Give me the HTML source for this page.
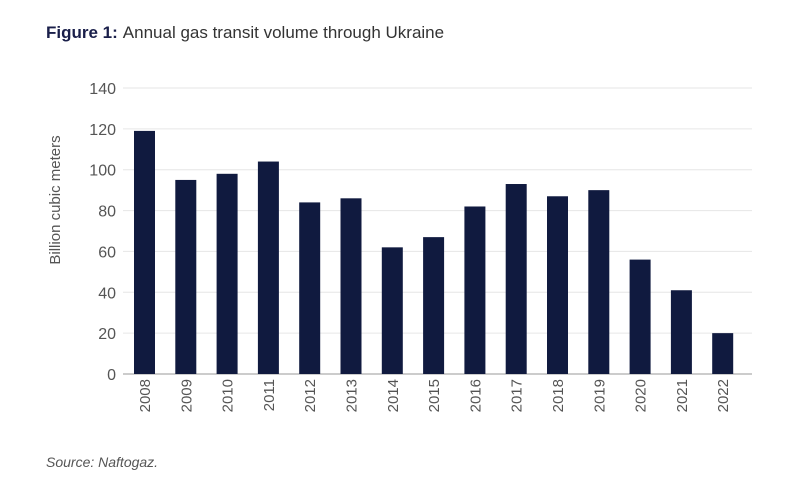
<!DOCTYPE html>
<html><head><meta charset="utf-8"><style>
body{margin:0;background:#fff;width:786px;height:491px;overflow:hidden;font-family:"Liberation Sans",sans-serif;}
</style></head><body>
<svg width="786" height="491" xmlns="http://www.w3.org/2000/svg">
<text x="46" y="38" font-size="17" fill="#1a1f4a"><tspan font-weight="bold">Figure 1:</tspan><tspan fill="#333" dx="5">Annual gas transit volume through Ukraine</tspan></text>
<g id="grid"></g><g id="bars"></g><g id="xl"></g><g id="yl"></g>
<text transform="translate(60,200) rotate(-90)" text-anchor="middle" font-size="15" fill="#555">Billion cubic meters</text>
<text x="46" y="467" font-size="14" font-style="italic" fill="#555">Source: Naftogaz.</text>
</svg>
<script>
const categories=["2008","2009","2010","2011","2012","2013","2014","2015","2016","2017","2018","2019","2020","2021","2022"];
const values=[119,95,98,104,84,86,62,67,82,93,87,90,56,41,20];
const yTicks=[0,20,40,60,80,100,120,140];
const NS="http://www.w3.org/2000/svg";
const y0=374,pxPer=286/140,x0=144.5,step=41.3,bw=21,gl=123,gr=752;
const y=v=>y0-v*pxPer, x=i=>x0+i*step;
function mk(t,a,p){const e=document.createElementNS(NS,t);for(const k in a)e.setAttribute(k,a[k]);p.appendChild(e);return e;}
const grid=document.getElementById('grid'),yl=document.getElementById('yl'),bars=document.getElementById('bars'),xl=document.getElementById('xl');
yTicks.forEach(v=>{
 const l=mk('line',{x1:gl,x2:gr,y1:y(v),y2:y(v),stroke:v===0?'#999':'#e6e6e6','stroke-width':1},grid);
 
 
 const t=mk('text',{x:116,y:y(v)+6,'text-anchor':'end','font-size':16,fill:'#555'},yl);
 t.textContent=v;
 
 
});
categories.forEach((c,i)=>{
 const r=mk('rect',{x:x(i)-bw/2,y:y(values[i]),width:bw,height:y0-y(values[i]),fill:'#101a3f'},bars);
 
 
 const t=mk('text',{transform:`translate(${x(i)+5.5},${y0+5}) rotate(-90)`,'text-anchor':'end','font-size':15,fill:'#555'},xl);
 t.textContent=c;
 
 
});
</script>
</body></html>
